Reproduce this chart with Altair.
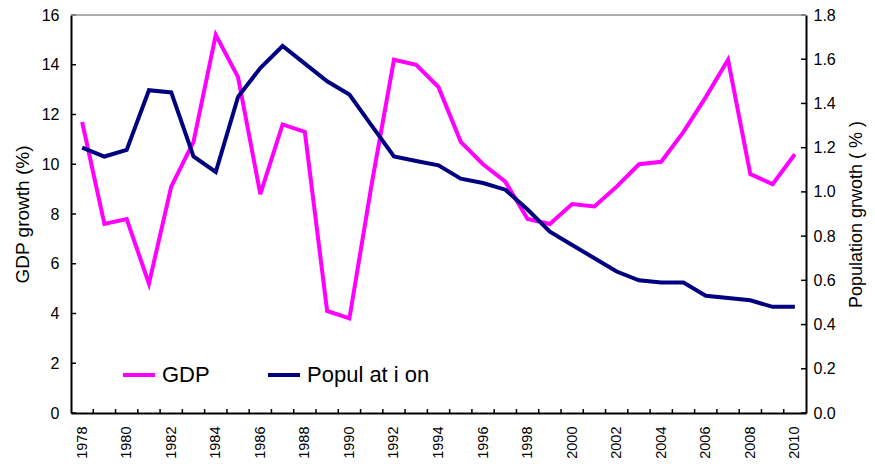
import altair as alt
import pandas as pd

years = list(range(1978, 2011))
gdp = [11.7, 7.6, 7.8, 5.2, 9.1, 10.9, 15.2, 13.5, 8.8, 11.6, 11.3, 4.1, 3.8, 9.2, 14.2,
       14.0, 13.1, 10.9, 10.0, 9.3, 7.8, 7.6, 8.4, 8.3, 9.1, 10.0, 10.1, 11.3, 12.7, 14.2,
       9.6, 9.2, 10.4]
pop = [1.20, 1.16, 1.19, 1.46, 1.45, 1.16, 1.09, 1.43, 1.56, 1.66, 1.58, 1.50, 1.44, 1.30,
       1.16, 1.14, 1.12, 1.06, 1.04, 1.01, 0.92, 0.82, 0.76, 0.70, 0.64, 0.60, 0.59, 0.59,
       0.53, 0.52, 0.51, 0.48, 0.48]
year_labels = list(range(1978, 2011, 2))
gdp_ticks = list(range(0, 17, 2))
pop_ticks = [0.0, 0.2, 0.4, 0.6, 0.8, 1.0, 1.2, 1.4, 1.6, 1.8]
series_names = ["GDP", "Popul at i on"]
series_colors = ["#FF00FF", "#000080"]

W, H = 735, 398
FONT = "Liberation Sans"

df = pd.DataFrame({"year": years, "gdp": gdp, "pop": pop})
bounds = pd.DataFrame({"year": [y + 0.5 for y in years[:-1]]})
lt = pd.DataFrame({"v": gdp_ticks})
rt = pd.DataFrame({"v": pop_ticks})

xscale = alt.Scale(domain=[1977.5, 2010.5], nice=False, zero=False)
xaxis = alt.Axis(values=year_labels, format="d", labelAngle=270, labelAlign="right",
                 labelBaseline="middle", ticks=False, labelPadding=13, title=None,
                 domainColor="black", domainWidth=2, grid=False, labelFontSize=14.5,
                 labelColor="black")
x = alt.X("year:Q", scale=xscale, axis=xaxis)

yl_scale = alt.Scale(domain=[0, 16], nice=False, zero=True)
yr_scale = alt.Scale(domain=[0, 1.8], nice=False, zero=True)

color = alt.Color("series:N",
                  scale=alt.Scale(domain=series_names, range=series_colors),
                  legend=alt.Legend(orient="none", legendX=50, legendY=342, direction="horizontal",
                                    symbolType="stroke", symbolStrokeWidth=4, symbolSize=1024,
                                    labelFontSize=22, labelFont=FONT, labelColor="black",
                                    columnPadding=50, labelOffset=5, title=None))

gdp_line = alt.Chart(df).transform_calculate(series="'GDP'").mark_line(strokeWidth=4).encode(
    x=x,
    y=alt.Y("gdp:Q", scale=yl_scale,
            axis=alt.Axis(orient="left", values=gdp_ticks, ticks=False, labelPadding=12, grid=False,
                          title="GDP growth (%)", titleAngle=270, titleX=-49, titleY=H / 2,
                          titleAlign="center", titleBaseline="middle", titleFontSize=19,
                          titleFontWeight="normal", labelFontSize=16, domainColor="black",
                          domainWidth=2, labelColor="black", titleColor="black")),
    color=color,
)

pop_line = alt.Chart(df).transform_calculate(series="'Popul at i on'").mark_line(strokeWidth=4).encode(
    x=x,
    y=alt.Y("pop:Q", scale=yr_scale,
            axis=alt.Axis(orient="right", values=pop_ticks, format=".1f", ticks=False,
                          labelPadding=7, grid=False, title="Population grwoth ( % )",
                          titleAngle=270, titleX=50, titleY=H / 2, titleAlign="center",
                          titleBaseline="middle", titleFontSize=18, titleFontWeight="normal",
                          labelFontSize=16, domainColor="black", domainWidth=2,
                          labelColor="black", titleColor="black")),
    color=color,
)

left_ticks = alt.Chart(lt).mark_rule(color="black", strokeWidth=1.5).encode(
    y=alt.Y("v:Q", scale=yl_scale, axis=None), x=alt.value(0), x2=alt.value(5))

right_ticks = alt.Chart(rt).mark_rule(color="black", strokeWidth=1.5).encode(
    y=alt.Y("v:Q", scale=yr_scale, axis=None), x=alt.value(W), x2=alt.value(W - 5))

bottom_ticks = alt.Chart(bounds).mark_rule(color="black", strokeWidth=1.5).encode(
    x=x, y=alt.value(H), y2=alt.value(H - 4))

top_border = alt.Chart(lt).mark_rule(color="#999999", strokeWidth=1.5).encode(
    y=alt.Y("max(v):Q", scale=yl_scale, axis=None), x=alt.value(0), x2=alt.value(W))

chart = alt.layer(gdp_line, pop_line, left_ticks, right_ticks, bottom_ticks, top_border).resolve_scale(
    y="independent").properties(
    width=W, height=H, autosize="none",
    padding={"left": 63, "top": 7, "right": 61, "bottom": 48},
).configure_view(stroke=None).configure_axis(labelFont=FONT, titleFont=FONT).configure(
    font=FONT, background="white")

chart.save("out.html", embed_options={"renderer": "svg", "actions": False})
